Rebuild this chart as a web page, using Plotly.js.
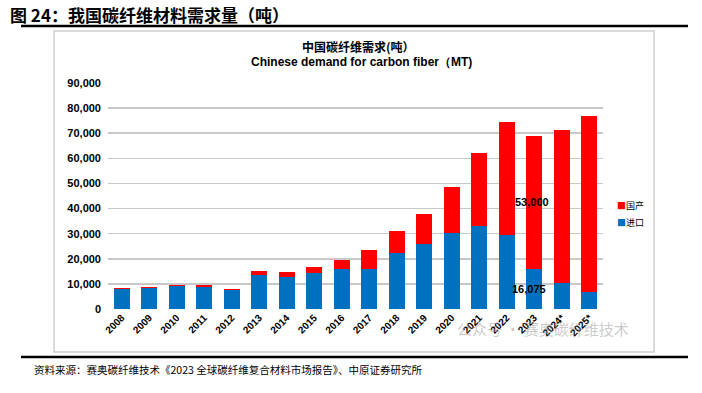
<!DOCTYPE html>
<html><head><meta charset="utf-8">
<script src="https://cdn.plot.ly/plotly-3.0.1.min.js"></script>
<style>html,body{margin:0;padding:0;background:#fff;}#c{width:702px;height:393px;}</style>
</head><body><div id="c"></div>
<script>
const years = ["2008","2009","2010","2011","2012","2013","2014","2015","2016","2017","2018","2019","2020","2021","2022","2023","2024*","2025*"];
const imported = [8000,8400,9000,8700,7600,13400,12600,14200,15800,16100,22200,25900,30400,33100,29500,16075,10500,6900];
const domestic = [400,300,400,800,400,1700,2100,2700,3700,7300,8800,11900,18200,29100,44800,53000,60900,69900];
const seriesNames = ["进口","国产"];
const seriesColors = ["#0070C0","#FF0000"];
const yTicks = [0,10000,20000,30000,40000,50000,60000,70000,80000,90000];
const yTickText = ["0","10,000","20,000","30,000","40,000","50,000","60,000","70,000","80,000","90,000"];

const L=108,R=603,T=83,B=309,W=702,H=393;
const px = x => (x-L)/(R-L);
const py = y => (B-y)/(B-T);
const bold = 'Liberation Sans, Arial, sans-serif';
const cjk = 'Noto Sans CJK SC, sans-serif';

const traces = [
 {type:'bar', name:seriesNames[0], x:years, y:imported, marker:{color:seriesColors[0]}, hoverinfo:'skip'},
 {type:'bar', name:seriesNames[1], x:years, y:domestic, marker:{color:seriesColors[1]}, hoverinfo:'skip'}
];
const legendAnn = (i, yPix) => ({xref:'paper', yref:'paper', x:px(615), y:py(yPix), xanchor:'left', yanchor:'middle', showarrow:false,
   text:'<span style="color:'+seriesColors[i]+'">■</span>'+seriesNames[i], font:{family:cjk, size:9, color:'#000'}});
const layout = {
 width:W, height:H, barmode:'stack', bargap:0.42,
 margin:{l:L, r:W-R, t:T, b:H-B, pad:0},
 paper_bgcolor:'#fff', plot_bgcolor:'#fff',
 showlegend:false,
 xaxis:{type:'category', range:[-0.5, years.length-0.5], autorange:false, tickangle:-45, showgrid:false, zeroline:false, showline:false, ticks:'',
   tickfont:{family:bold, size:10, color:'#000', weight:'bold'}},
 yaxis:{range:[0,90000], autorange:false, tickvals:yTicks, ticktext:yTickText, showgrid:true, gridcolor:'#C8C8C8', gridwidth:1.5,
   zeroline:false, showline:false, ticks:'', ticklabelstandoff:6,
   tickfont:{family:bold, size:11, color:'#000', weight:'bold'}},
 annotations:[
  {xref:'paper', yref:'paper', x:px(8), y:py(14), xanchor:'left', yanchor:'middle', showarrow:false,
   text:'<b>图 24：我国碳纤维材料需求量（吨）</b>', font:{family:cjk, size:17, color:'#000'}},
  {xref:'paper', yref:'paper', x:px(358), y:py(46), xanchor:'center', yanchor:'middle', showarrow:false,
   text:'<b>中国碳纤维需求(吨）</b>', font:{family:cjk, size:12, color:'#000'}},
  {xref:'paper', yref:'paper', x:px(361), y:py(62), xanchor:'center', yanchor:'middle', showarrow:false,
   text:'<b>Chinese demand for carbon fiber（MT)</b>', font:{family:bold, size:12, color:'#000'}},
  {xref:'x', yref:'y', x:15, y:imported[15]+domestic[15]/2, xanchor:'center', yanchor:'middle', showarrow:false, xshift:-2,
   text:'<b>53,000</b>', font:{family:bold, size:11, color:'#000'}},
  {xref:'x', yref:'y', x:15, y:imported[15]/2, xanchor:'center', yanchor:'middle', showarrow:false, xshift:-5,
   text:'<b>16,075</b>', font:{family:bold, size:11, color:'#000'}},
  legendAnn(1, 205.5),
  legendAnn(0, 222.5),
  {xref:'paper', yref:'paper', x:px(455), y:py(328), xanchor:'left', yanchor:'middle', showarrow:false,
   text:'公众号 · 赛奥碳纤维技术', font:{family:cjk, size:15, color:'rgba(150,150,150,0.5)'}},
  {xref:'paper', yref:'paper', x:px(32), y:py(369), xanchor:'left', yanchor:'middle', showarrow:false,
   text:'资料来源：赛奥碳纤维技术《2023 全球碳纤维复合材料市场报告》、中原证券研究所', font:{family:cjk, size:10.5, color:'#000'}}
 ],
 shapes:[
  {type:'line', xref:'paper', yref:'paper', x0:px(21), x1:px(688), y0:py(26), y1:py(26), line:{color:'#000', width:2.5}},
  {type:'rect', xref:'paper', yref:'paper', x0:px(54), x1:px(654), y0:py(31), y1:py(352), line:{color:'#CFCFCF', width:1.5}},
  {type:'line', xref:'paper', yref:'paper', x0:px(21), x1:px(688), y0:py(357), y1:py(357), line:{color:'#000', width:2.5}}
 ]
};
Plotly.newPlot('c', traces, layout, {displayModeBar:false, staticPlot:true});
</script></body></html>
